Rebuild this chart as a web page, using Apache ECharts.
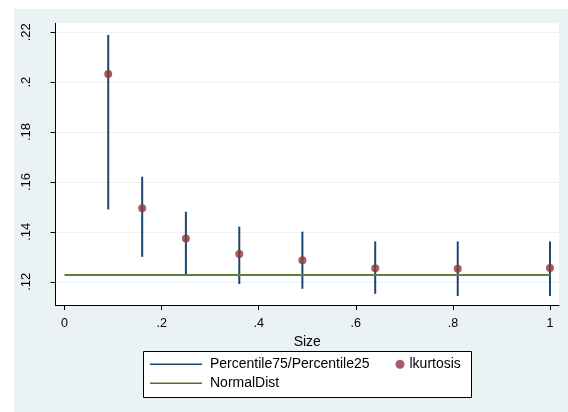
<!DOCTYPE html>
<html>
<head>
<meta charset="utf-8">
<script src="https://cdn.jsdelivr.net/npm/echarts@6/dist/echarts.min.js"></script>
<style>html,body{margin:0;padding:0;background:#fff}#c{width:568px;height:412px}</style>
</head>
<body>
<div id="c"></div>
<script>
var sizes = [0.09, 0.16, 0.25, 0.36, 0.49, 0.64, 0.81, 1.0];
var lkurtosis = [0.2033, 0.1495, 0.1374, 0.1311, 0.1286, 0.1254, 0.1252, 0.1255];
var p25 = [0.1490, 0.1300, 0.1231, 0.1191, 0.1172, 0.1152, 0.1143, 0.1143];
var p75 = [0.2189, 0.1621, 0.1481, 0.1421, 0.1401, 0.1362, 0.1362, 0.1362];
var normalX = [0, 1];
var normalY = [0.1227, 0.1227];
var xTicks = [0, 0.2, 0.4, 0.6, 0.8, 1];
var yTicks = [0.12, 0.14, 0.16, 0.18, 0.2, 0.22];

function fmt(v) {
  var s = String(+(+v).toFixed(3));
  return s.replace(/^0\./, '.');
}
var FONT = "'Liberation Sans', Arial, sans-serif";
var chart = echarts.init(document.getElementById('c'), null, {renderer: 'canvas'});
var rangeData = sizes.map(function (x, i) { return [x, p25[i], p75[i]]; });
var dotData = sizes.map(function (x, i) { return [x, lkurtosis[i]]; });
var normData = normalX.map(function (x, i) { return [x, normalY[i]]; });

chart.setOption({
  backgroundColor: '#eaf2f3',
  animation: false,
  textStyle: {fontFamily: FONT},
  graphic: [
    {type: 'rect', shape: {x: 0, y: 0, width: 568, height: 9}, style: {fill: '#fff'}, silent: true},
    {type: 'rect', shape: {x: 0, y: 0, width: 14, height: 412}, style: {fill: '#fff'}, silent: true},
    {type: 'rect', shape: {x: 143.5, y: 351.5, width: 328, height: 46}, style: {fill: '#fff', stroke: '#000', lineWidth: 1}, silent: true}
  ],
  grid: {left: 55.5, right: 9, top: 23.3, bottom: 107, show: true, backgroundColor: '#fff', borderWidth: 0, containLabel: false},
  xAxis: {
    type: 'value', min: -0.0186, max: 1.0186,
    name: 'Size', nameLocation: 'middle', nameGap: 22,
    nameTextStyle: {fontSize: 14, color: '#000', fontFamily: FONT},
    axisLine: {show: true, onZero: false, lineStyle: {color: '#000', width: 1}},
    axisTick: {show: true, length: 5, lineStyle: {color: '#000'}, customValues: xTicks},
    axisLabel: {customValues: xTicks, formatter: fmt, fontSize: 12.5, color: '#000', margin: 12, fontFamily: FONT},
    splitLine: {show: false}
  },
  yAxis: {
    type: 'value', min: 0.1107, max: 0.2236,
    axisLine: {show: true, onZero: false, lineStyle: {color: '#000', width: 1}},
    axisTick: {show: true, length: 5, lineStyle: {color: '#000'}, customValues: yTicks},
    axisLabel: {customValues: yTicks, formatter: fmt, rotate: 90, fontSize: 13, color: '#000', margin: 23, fontFamily: FONT},
    splitLine: {show: true, lineStyle: {color: '#eaf2f3', width: 1.2}}
  },
  legend: [
    {
      orient: 'vertical', left: 150, top: 357.3, padding: 0, itemGap: 5,
      itemWidth: 52, itemHeight: 14,
      textStyle: {fontSize: 14, lineHeight: 14, color: '#000', fontFamily: FONT, padding: [0, 0, 0, 3]},
      data: [
        {name: 'Percentile75/Percentile25', icon: 'path://M0,0H52V1.5H0Z'},
        {name: 'NormalDist', icon: 'path://M0,0H52V1.5H0Z'}
      ],
      selectedMode: false
    },
    {
      orient: 'horizontal', left: 395.5, top: 357.3, padding: 0,
      itemWidth: 9, itemHeight: 9,
      textStyle: {fontSize: 14, lineHeight: 14, color: '#000', fontFamily: FONT},
      data: [{name: 'lkurtosis', icon: 'circle'}],
      selectedMode: false
    }
  ],
  series: [
    {
      name: 'Percentile75/Percentile25', type: 'custom',
      itemStyle: {color: '#1a476f'},
      encode: {x: 0, y: [1, 2]},
      data: rangeData,
      renderItem: function (params, api) {
        var lo = api.coord([api.value(0), api.value(1)]);
        var hi = api.coord([api.value(0), api.value(2)]);
        return {type: 'line', shape: {x1: lo[0], y1: lo[1], x2: hi[0], y2: hi[1]},
          style: {stroke: '#1a476f', lineWidth: 2}};
      },
      z: 2
    },
    {
      name: 'NormalDist', type: 'line', data: normData,
      symbol: 'none', itemStyle: {color: '#55752f'},
      lineStyle: {color: '#5f7f38', width: 2}, z: 3
    },
    {
      name: 'lkurtosis', type: 'scatter', data: dotData,
      symbol: 'circle', symbolSize: 8, itemStyle: {color: '#90353b'}, z: 4
    }
  ]
});
</script>
</body>
</html>
